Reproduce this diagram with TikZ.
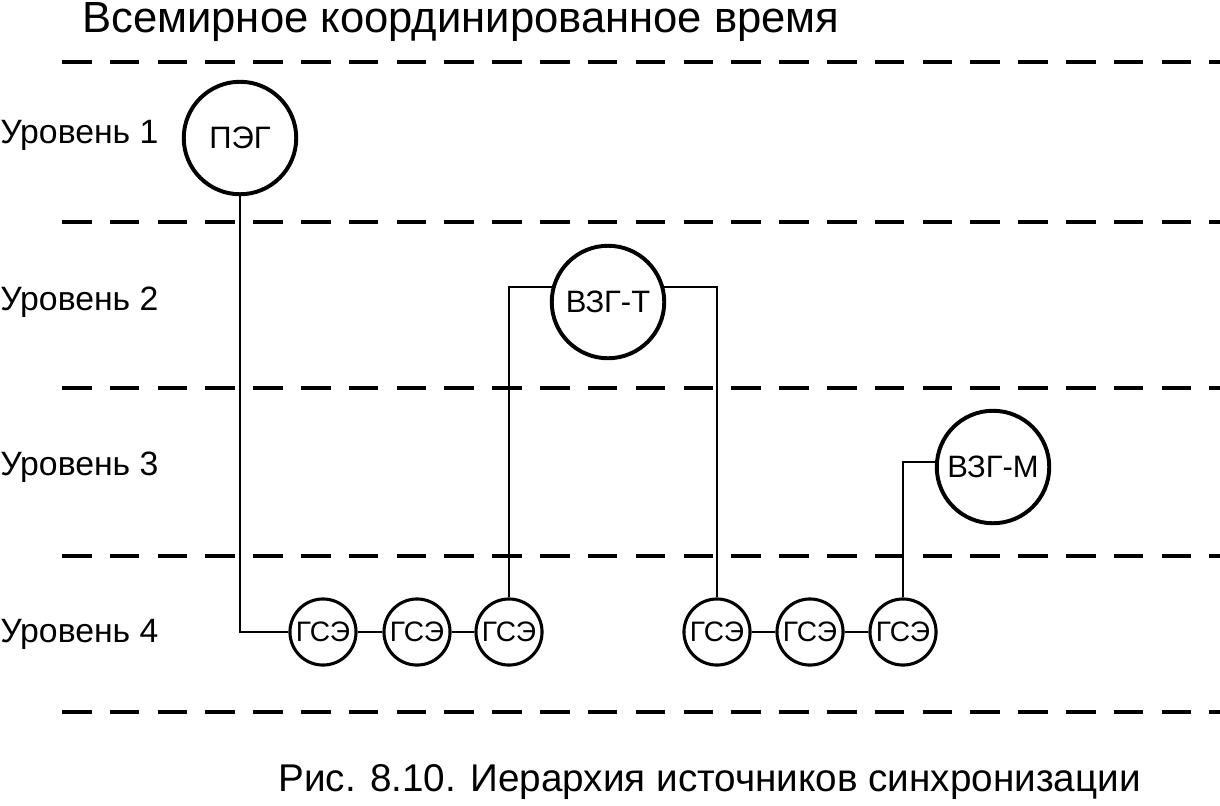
\documentclass[tikz,border=0pt]{standalone}
\usepackage{fontspec}
\setmainfont{Liberation Sans}
\usetikzlibrary{positioning}
\tikzset{
  level/.style={line width=2.8pt,dash pattern=on 21pt off 13pt},
  bigclk/.style={circle,draw,line width=2.8pt,minimum size=80pt,inner sep=0pt,font=\fontsize{22}{22}\selectfont},
  gse/.style={circle,draw,line width=2.2pt,minimum size=47pt,inner sep=0pt,font=\fontsize{20}{20}\selectfont},
  link/.style={line width=2pt},
  lvl/.style={anchor=west,inner sep=0pt,font=\fontsize{24}{24}\selectfont}
}
\begin{document}
\begin{tikzpicture}[x=0.025cm,y=-0.025cm]
  \useasboundingbox (0,0) rectangle (1220,805);
  % levels
  \foreach \yy in {62,222,388,556,712}
    \draw[level] (62,\yy) -- (1220,\yy);
  \node[anchor=west,inner sep=0pt,font=\fontsize{31}{31}\selectfont] (title) at (82,22) {Всемирное координированное время};
  \node[lvl] (l1) at (0,135) {Уровень 1};
  \node[lvl] (l2) at (0,302) {Уровень 2};
  \node[lvl] (l3) at (0,467) {Уровень 3};
  \node[lvl] (l4) at (0,634) {Уровень 4};
  % clocks
  \node[bigclk] (peg) at (240,138) {ПЭГ};
  \node[bigclk] (vzgt) at (608,302) {ВЗГ-Т};
  \node[bigclk] (vzgm) at (993,467) {ВЗГ-М};
  \node[gse] (g1) at (323,632) {ГСЭ};
  \node[gse] (g2) at (417,632) {ГСЭ};
  \node[gse] (g3) at (509,632) {ГСЭ};
  \node[gse] (g4) at (717,632) {ГСЭ};
  \node[gse] (g5) at (810,632) {ГСЭ};
  \node[gse] (g6) at (903,632) {ГСЭ};
  % links
  \draw[link] (peg.south) |- (g1.west);
  \draw[link] (g1) -- (g2);
  \draw[link] (g2) -- (g3);
  \draw[link] (g4) -- (g5);
  \draw[link] (g5) -- (g6);
  \draw[link] (g3.north) |- (vzgt.165);
  \draw[link] (vzgt.15) -| (g4.north);
  \draw[link] (g6.north) |- (vzgm.175);
  \node[anchor=west,inner sep=0pt,font=\fontsize{27.5}{27.5}\selectfont] (cap) at (278,782) {Рис. 8.10. Иерархия источников синхронизации};
\end{tikzpicture}
\end{document}
